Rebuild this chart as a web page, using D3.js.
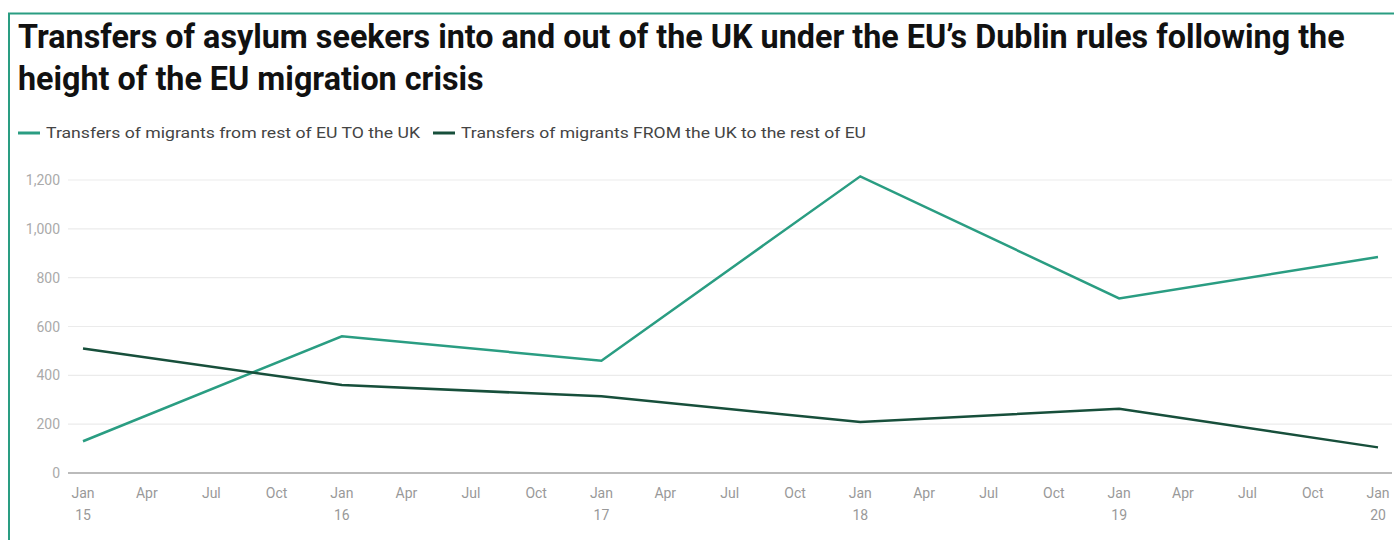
<!DOCTYPE html>
<html><head><meta charset="utf-8">
<script src="https://cdn.jsdelivr.net/npm/d3@7"></script>
<style>
html,body{margin:0;padding:0;background:#fff;}
svg{display:block;font-family:Roboto,"Noto Sans",sans-serif;}
</style></head><body>
<svg id="c" width="1394" height="540"></svg>
<script>
const years = ["2015-01-01","2016-01-01","2017-01-01","2018-01-01","2019-01-01","2020-01-01"];
const seriesNames = ["Transfers of migrants from rest of EU TO the UK","Transfers of migrants FROM the UK to the rest of EU"];
const intoUK = [130, 560, 460, 1215, 715, 885];
const fromUK = [510, 360, 314, 209, 263, 105];
const yTicks = [0, 200, 400, 600, 800, 1000, 1200];
const titleLines = ["Transfers of asylum seekers into and out of the UK under the EU\u2019s Dublin rules following the","height of the EU migration crisis"];
const colors = ["#2a9d82","#174f3b"];

const svg = d3.select("#c");
const W = 1394, H = 540;

// frame
svg.append("path").attr("d", `M9,${H} V13.5 H${W}`).attr("fill","none").attr("stroke","#2a9d82").attr("stroke-width",2);

// title
svg.append("g").selectAll("text").data(titleLines).join("text")
  .attr("x",18).attr("y",(d,i)=>48+i*42)
  .attr("font-size",32.3).attr("font-weight",700).attr("fill","#111")
  .text(d=>d);

// legend
const lg = svg.append("g").attr("transform","translate(18,133)");
const legW = [374, 405];
let lx = 0;
seriesNames.forEach((n,i)=>{
  const g = lg.append("g").attr("transform",`translate(${lx},0)`);
  g.append("line").attr("x1",0).attr("x2",22).attr("y1",0).attr("y2",0).attr("stroke",colors[i]).attr("stroke-width",3);
  g.append("text").attr("x",28).attr("y",5).attr("font-size",14).attr("fill","#444")
    .attr("textLength",legW[i]).attr("lengthAdjust","spacingAndGlyphs").text(n);
  lx += 28 + legW[i] + 13;
});

const parse = d3.timeParse("%Y-%m-%d");
const dates = years.map(parse);
const x = d3.scaleTime().domain(d3.extent(dates)).range([83, 1378]);
const y = d3.scaleLinear().domain([0,1200]).range([473, 180]);

// grid
svg.append("g").selectAll("line").data(yTicks.filter(d=>d>0)).join("line")
  .attr("x1",68).attr("x2",1392).attr("y1",d=>y(d)).attr("y2",d=>y(d))
  .attr("stroke","#ebebeb").attr("stroke-width",1.2);

// y labels
svg.append("g").selectAll("text").data(yTicks).join("text")
  .attr("x",60).attr("y",d=>y(d)+5).attr("text-anchor","end")
  .attr("font-size",14).attr("fill","#aaa").text(d=>d3.format(",")(d));

// baseline
svg.append("line").attr("x1",68).attr("x2",1392).attr("y1",y(0)).attr("y2",y(0)).attr("stroke","#bbb").attr("stroke-width",2);

// x axis labels
const xTicks = d3.timeMonth.every(3).range(dates[0], d3.timeDay.offset(dates[5],1));
const mfmt = d3.timeFormat("%b"), yfmt = d3.timeFormat("%y");
const xl = svg.append("g").selectAll("text").data(xTicks).join("text")
  .attr("x",d=>x(d)).attr("y",498).attr("text-anchor","middle").attr("font-size",14).attr("fill","#999");
xl.append("tspan").attr("x",d=>x(d)).text(d=>mfmt(d)==="Sep"?"Oct":mfmt(d));
xl.filter(d=>d.getMonth()===0).append("tspan").attr("x",d=>x(d)).attr("dy",22).text(d=>yfmt(d));

// lines
const line = d3.line().x((d,i)=>x(dates[i])).y(d=>y(d));
[intoUK, fromUK].forEach((s,i)=>{
  svg.append("path").datum(s).attr("d",line).attr("fill","none").attr("stroke",colors[i]).attr("stroke-width",2.5).attr("stroke-linejoin","miter");
});
</script>
</body></html>
